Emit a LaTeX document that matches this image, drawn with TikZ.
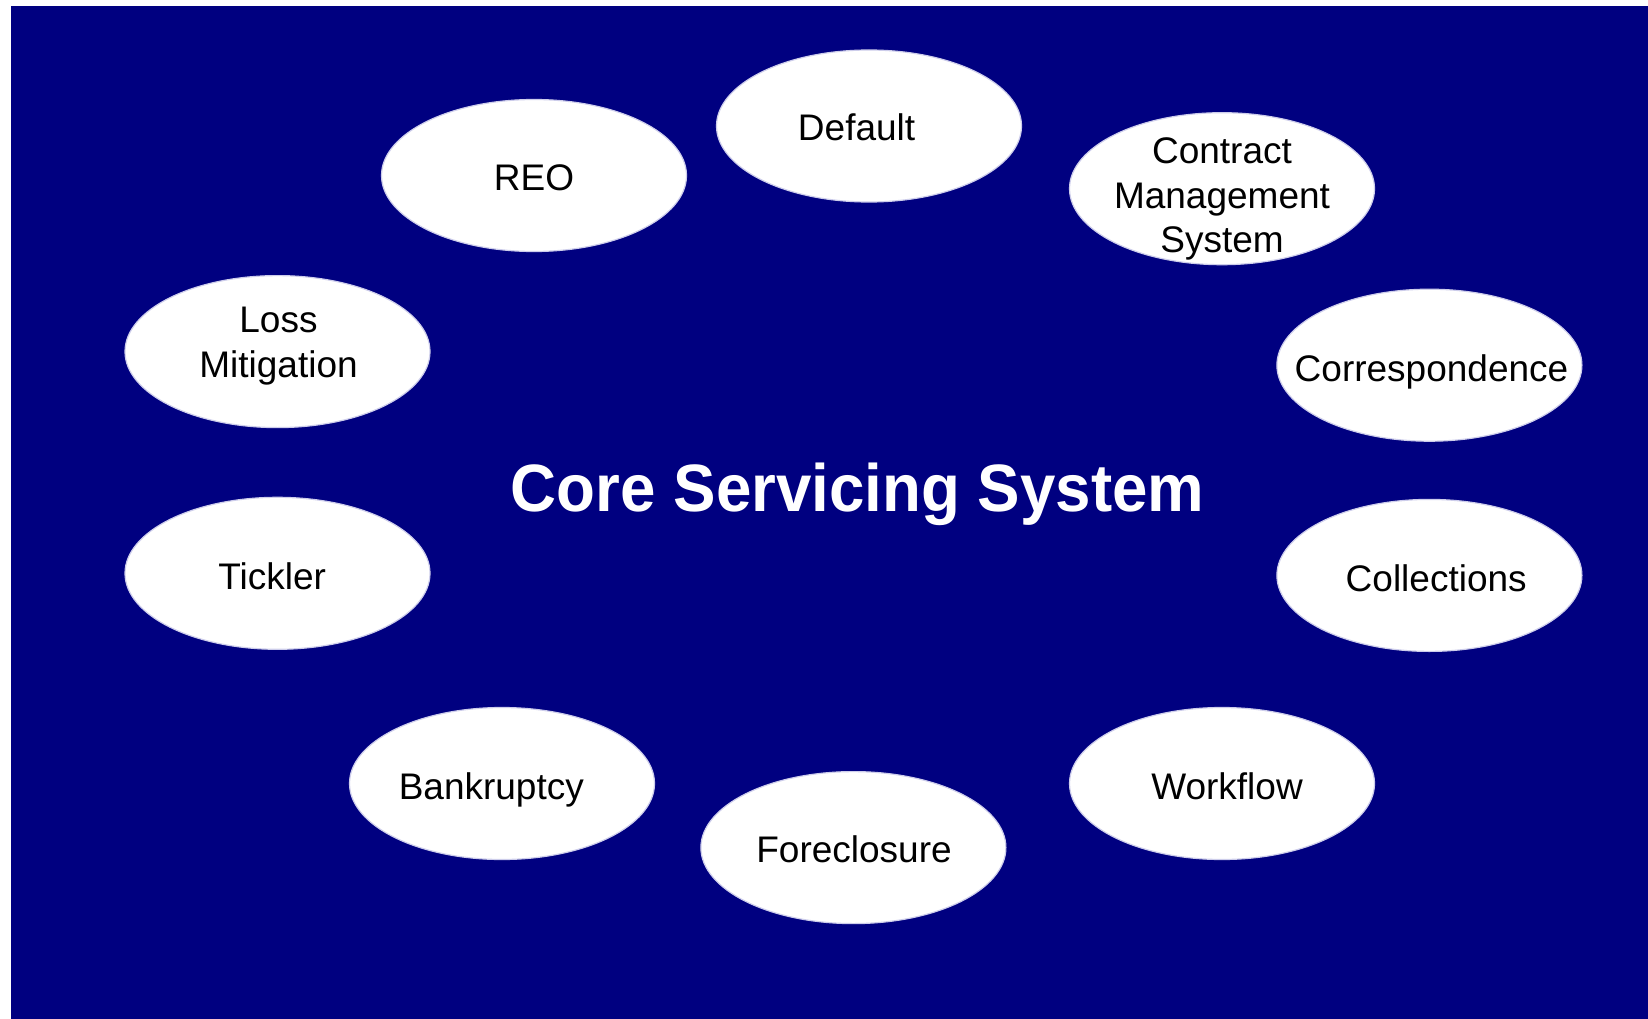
\documentclass[tikz,border=0pt]{standalone}
\usepackage{fontspec}
\setmainfont{Liberation Sans}
\usetikzlibrary{shapes.geometric}
\definecolor{navy}{RGB}{0,0,128}
\definecolor{ovaledge}{RGB}{205,205,235}
\tikzset{
  oval/.style={ellipse, fill=white, draw=ovaledge, line width=1.2pt,
    minimum width=305pt, minimum height=152pt, inner sep=0pt},
  lbl/.style={font=\fontsize{37}{44.6}\selectfont, text=black, inner sep=0pt, align=center},
  ttl/.style={font=\fontsize{67}{70}\selectfont\bfseries, text=white, inner sep=0pt}
}
\begin{document}
\begin{tikzpicture}[x=1pt,y=-1pt]
\useasboundingbox (0,0) rectangle (1648,1019);
\fill[white] (0,0) rectangle (1648,1019);
\fill[navy] (11,6) rectangle (1648,1019);
% ovals
\node[oval] (def) at (869,126) {};
\node[oval] (reo) at (534,175.5) {};
\node[oval] (cms) at (1222,188.7) {};
\node[oval] (loss) at (277.5,351.6) {};
\node[oval] (corr) at (1429.4,365.2) {};
\node[oval] (tick) at (277.5,573.3) {};
\node[oval] (coll) at (1429.4,575.4) {};
\node[oval] (bank) at (502,783.5) {};
\node[oval] (work) at (1222,783.5) {};
\node[oval] (fore) at (853.4,847.6) {};
% labels
\node[lbl, anchor=base] (deft) at (856.6,140.5) {Default};
\node[lbl, anchor=base] (reot) at (534,190) {REO};
\node[lbl] (cmst) at (1222,199.2) {Contract\\Management\\System};
\node[lbl] (losst) at (278.5,346) {Loss\\Mitigation};
\node[lbl, anchor=base] (corrt) at (1431.5,381.4) {Correspondence};
\node[lbl, anchor=base] (collt) at (1436.2,591.5) {Collections};
\node[lbl, anchor=base] (tickt) at (272.2,589.5) {Tickler};
\node[lbl, anchor=base] (bankt) at (491.3,799.6) {Bankruptcy};
\node[lbl, anchor=base] (workt) at (1227,799.6) {Workflow};
\node[lbl, anchor=base] (foret) at (854,862.7) {Foreclosure};
% title
\node[ttl, anchor=base] (title) at (857.6,511) {\scalebox{0.95}[1]{Core Servicing System}};
\end{tikzpicture}
\end{document}
